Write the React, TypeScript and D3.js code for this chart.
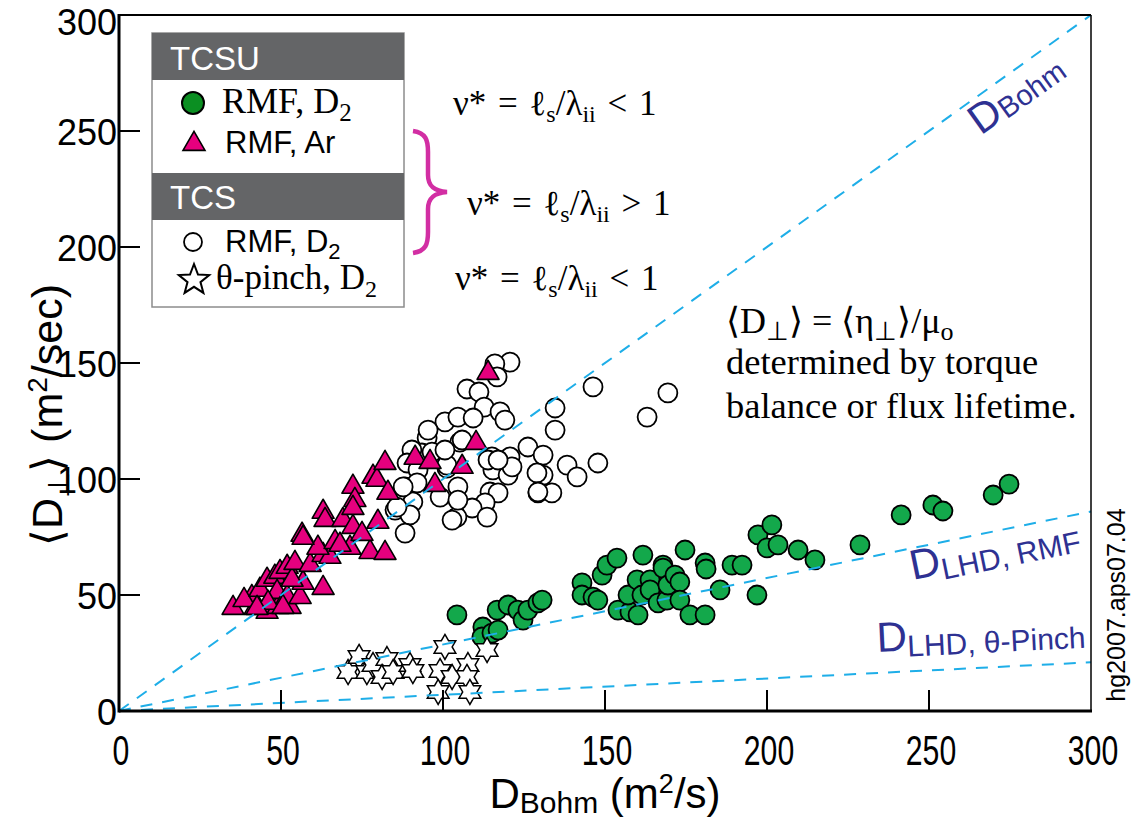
import React from "react";
import * as d3 from "d3";

// axis ticks
const xTicks = [0, 50, 100, 150, 200, 250, 300];
const yTicks = [0, 50, 100, 150, 200, 250, 300];

// TCSU, RMF, D2 (green circles)
const tcsuD2 = [
  [104.3, 41.4], [112.3, 36.2], [112.0, 31.9], [115.1, 33.6], [117.0, 34.9], [116.7, 43.5],
  [120.1, 45.7], [123.1, 43.5], [124.7, 39.2], [126.2, 43.5], [129.3, 46.6], [130.6, 47.8],
  [142.9, 55.2], [142.9, 50.0], [146.3, 49.1], [147.8, 47.8], [149.1, 58.6], [150.6, 62.9],
  [153.7, 65.9], [154.0, 43.5], [157.7, 42.7], [160.2, 41.4], [157.1, 50.0], [159.9, 56.5],
  [161.4, 50.0], [163.9, 56.5], [163.9, 52.2], [161.7, 67.2], [166.4, 46.6], [167.9, 62.9],
  [167.9, 61.6], [169.1, 47.8], [169.4, 54.3], [171.6, 58.6], [173.1, 55.6], [173.1, 47.8],
  [174.7, 69.4], [176.2, 41.4], [180.9, 41.4], [180.9, 63.8], [181.2, 61.2], [185.5, 52.2],
  [189.2, 62.9], [192.3, 62.9], [196.9, 50.0], [197.2, 75.9], [200.0, 70.3], [201.5, 80.2],
  [203.4, 71.6], [209.6, 69.4], [214.8, 65.1], [228.7, 71.6], [241.4, 84.5], [251.2, 88.8],
  [254.3, 86.2], [269.8, 93.1], [274.7, 97.8],
];

// TCSU, RMF, Ar (magenta triangles)
const tcsuAr = [
  [35.2, 44.4], [42.0, 44.4], [45.7, 42.7], [49.1, 44.8], [52.8, 44.8], [41.0, 49.1],
  [38.6, 47.8], [43.5, 52.2], [45.7, 56.5], [48.1, 57.8], [49.7, 59.9], [51.9, 62.1],
  [48.8, 51.3], [51.9, 49.1], [55.9, 49.1], [56.8, 55.2], [53.4, 56.5], [54.3, 63.8],
  [59.0, 62.9], [63.0, 53.0], [63.0, 67.2], [65.1, 66.4], [61.4, 70.3], [66.7, 72.8],
  [71.3, 70.3], [77.5, 68.5], [82.1, 68.1], [56.5, 75.9], [56.8, 74.6], [63.0, 85.8],
  [63.6, 82.3], [69.1, 82.3], [72.2, 79.3], [79.9, 81.5], [72.2, 96.6], [72.8, 90.9],
  [72.2, 87.5], [78.4, 100.9], [79.6, 99.6], [82.1, 106.9], [83.0, 94.0], [91.4, 109.1],
  [96.0, 107.3], [97.5, 97.4], [105.9, 105.2], [110.2, 115.5], [46.0, 46.6], [50.6, 44.8],
  [42.6, 44.4], [68.2, 71.6], [75.0, 76.3], [113.9, 145.7],
];

// TCS, RMF, D2 (open circles)
const tcsD2 = [
  [120.7, 150.4], [116.0, 149.6], [116.7, 144.0], [107.4, 138.8], [111.1, 137.5], [112.7, 131.0],
  [117.6, 128.9], [119.1, 125.4], [100.6, 124.6], [104.6, 126.7], [109.3, 126.3], [146.3, 139.7],
  [134.6, 130.6], [134.6, 121.1], [169.4, 137.1], [163.0, 126.7], [126.2, 113.8], [130.9, 110.3],
  [138.3, 106.0], [141.4, 100.9], [147.8, 106.9], [130.9, 101.7], [129.3, 94.0], [133.6, 94.0],
  [105.2, 115.9], [115.1, 109.5], [120.7, 109.5], [115.4, 103.9], [120.1, 101.7], [121.3, 105.2],
  [114.5, 94.4], [117.0, 94.0], [104.6, 96.6], [113.0, 89.7], [109.0, 87.5], [104.3, 83.6],
  [113.6, 83.6], [95.1, 117.7], [93.5, 111.2], [101.2, 104.7], [96.6, 111.6], [90.4, 112.5],
  [88.9, 106.9], [92.3, 103.9], [101.2, 106.0], [88.3, 96.6], [92.0, 98.3], [90.7, 90.1],
  [85.2, 86.6], [89.8, 84.5], [88.3, 76.7], [99.1, 92.2], [104.6, 90.9], [102.8, 82.3],
  [113.9, 108.2], [117.0, 108.2], [129.0, 102.6], [129.3, 94.4], [85.8, 87.9], [87.7, 96.6],
  [105.9, 116.8], [100.6, 112.5], [95.4, 121.1],
];

// TCS, theta-pinch, D2 (open stars)
const tcsPinch = [
  [70.7, 16.8], [74.1, 23.3], [76.5, 16.8], [78.4, 19.8], [82.7, 22.4], [81.2, 14.7],
  [84.6, 16.8], [89.8, 19.8], [90.7, 17.2], [100.6, 27.6], [99.1, 17.2], [102.8, 14.7],
  [107.7, 19.8], [107.4, 14.7], [98.5, 8.2], [108.3, 8.2], [113.6, 26.3],
];

// reference scaling lines (end points) and where their labels sit
const bohmLine = [[0, 0], [300, 300]];
const rmfLine = [[0, 0], [300, 86]];
const pinchLine = [[0, 0], [300, 21]];
const bohmLabelAt = [266, 248];
const rmfLabelAt = [245, 56.5];
const pinchLabelAt = [234, 25.4];

const SANS = "'Liberation Sans', Arial, sans-serif";
const SERIF = "'Liberation Serif', 'Times New Roman', serif";
const BLUE_LINE = "#1eaee8";
const LABEL_BLUE = "#2e3192";
const GREEN = "#13a84b";
const MAGENTA = "#e6007e";

function starPath(n, ro, ri) {
  const pts = [];
  for (let i = 0; i < 2 * n; i++) {
    const r = i % 2 === 0 ? ro : ri;
    const a = -Math.PI / 2 + (i * Math.PI) / n;
    pts.push([r * Math.cos(a), r * Math.sin(a)]);
  }
  return "M" + pts.map((p) => p[0].toFixed(2) + "," + p[1].toFixed(2)).join("L") + "Z";
}

function triPath(s) {
  const h = (s * Math.sqrt(3)) / 2;
  return `M0,${(-2 * h) / 3}L${s / 2},${h / 3}L${-s / 2},${h / 3}Z`;
}

export default function App() {
  const W = 1132;
  const H = 818;
  const x = d3.scaleLinear().domain([0, 300]).range([119, 1091]);
  const y = d3.scaleLinear().domain([0, 300]).range([711, 15]);
  const line = d3.line().x((d) => x(d[0])).y((d) => y(d[1]));

  const angle = (l) =>
    (Math.atan2(y(l[1][1]) - y(l[0][1]), x(l[1][0]) - x(l[0][0])) * 180) / Math.PI;

  const star6 = starPath(6, 12.5, 7.2);
  const star5 = starPath(5, 16, 6.8);
  const tri = triPath(22);

  const [x0, x1] = x.range();
  const [y0, y1] = y.range();

  return (
    <div style={{ position: "absolute", left: 0, top: 0 }}>
      <svg width={W} height={H} style={{ display: "block", background: "#fff" }}>
        {/* data markers */}
        <g>
          {tcsD2.map((d, i) => (
            <circle key={"o" + i} cx={x(d[0])} cy={y(d[1])} r={9.5} fill="#fff" stroke="#000" strokeWidth={1.8} />
          ))}
          {tcsuAr.map((d, i) => (
            <path key={"t" + i} d={tri} transform={`translate(${x(d[0])},${y(d[1])})`} fill={MAGENTA} stroke="#000" strokeWidth={1.6} strokeLinejoin="round" />
          ))}
          {tcsuD2.map((d, i) => (
            <circle key={"g" + i} cx={x(d[0])} cy={y(d[1])} r={9.5} fill={GREEN} stroke="#000" strokeWidth={1.8} />
          ))}
          {tcsPinch.map((d, i) => (
            <path key={"s" + i} d={star6} transform={`translate(${x(d[0])},${y(d[1])})`} fill="#fff" stroke="#000" strokeWidth={1.5} />
          ))}
        </g>

        {/* dashed scaling lines */}
        {[bohmLine, rmfLine, pinchLine].map((l, i) => (
          <path key={"l" + i} d={line(l)} fill="none" stroke={BLUE_LINE} strokeWidth={2} strokeDasharray="12,10" />
        ))}

        {/* line labels */}
        <text transform={`translate(${x(bohmLabelAt[0])},${y(bohmLabelAt[1])}) rotate(${angle(bohmLine)})`} fill={LABEL_BLUE} fontFamily={SANS}>
          <tspan fontSize={42}>D</tspan>
          <tspan fontSize={29} dy={2}>Bohm</tspan>
        </text>
        <text transform={`translate(${x(rmfLabelAt[0])},${y(rmfLabelAt[1])}) rotate(${angle(rmfLine)})`} fill={LABEL_BLUE} fontFamily={SANS}>
          <tspan fontSize={42}>D</tspan>
          <tspan fontSize={30} dy={6}>LHD, RMF</tspan>
        </text>
        <text transform={`translate(${x(pinchLabelAt[0])},${y(pinchLabelAt[1])}) rotate(${angle(pinchLine)})`} fill={LABEL_BLUE} fontFamily={SANS}>
          <tspan fontSize={42}>D</tspan>
          <tspan fontSize={30} dy={6}>LHD, θ-Pinch</tspan>
        </text>

        {/* frame */}
        <line x1={x0} x2={x1} y1={y1} y2={y1} stroke="#000" strokeWidth={2} />
        <line x1={x1} x2={x1} y1={y1} y2={y0} stroke="#000" strokeWidth={1.5} />
        <line x1={x0} x2={x1 + 1} y1={y0} y2={y0} stroke="#000" strokeWidth={3} />
        <line x1={x0} x2={x0} y1={y1 - 1} y2={y0 + 1.5} stroke="#000" strokeWidth={3} />

        {/* x ticks */}
        {xTicks.map((t) => (
          <g key={"xt" + t}>
            {t > 0 && t < 300 && <line x1={x(t)} x2={x(t)} y1={y0} y2={y0 - 21} stroke="#000" strokeWidth={2} />}
            <text transform={`translate(${x(t) + 2},765) scale(0.72,1)`} textAnchor="middle" fontFamily={SANS} fontSize={42}>
              {t}
            </text>
          </g>
        ))}
        {/* y ticks */}
        {yTicks.map((t) => (
          <g key={"yt" + t}>
            {t > 0 && <line x1={x0} x2={x0 + 21} y1={y(t)} y2={y(t)} stroke="#000" strokeWidth={2} />}
            <text x={117} y={Math.max(y(t) + 14, 35)} textAnchor="end" fontFamily={SANS} fontSize={36}>
              {t}
            </text>
          </g>
        ))}

        {/* axis titles */}
        <text x={(x0 + x1) / 2} y={808} textAnchor="middle" fontFamily={SANS}>
          <tspan fontSize={42}>D</tspan>
          <tspan fontSize={30} dy={5}>Bohm</tspan>
          <tspan fontSize={42} dy={-5}> (m</tspan>
          <tspan fontSize={27} dy={-15}>2</tspan>
          <tspan fontSize={42} dy={15}>/s)</tspan>
        </text>
        <text transform="translate(62,415) rotate(-90)" textAnchor="middle" fontFamily={SANS}>
          <tspan fontSize={43}>⟨D</tspan>
          <tspan fontSize={30} dy={7}>⊥</tspan>
          <tspan fontSize={43} dy={-7}>⟩ (m</tspan>
          <tspan fontSize={28} dy={-15}>2</tspan>
          <tspan fontSize={43} dy={15}>/sec)</tspan>
        </text>

        {/* legend */}
        <g>
          <rect x={152} y={33} width={252} height={274} fill="#fff" stroke="#8c8c8c" strokeWidth={1.5} />
          <rect x={152} y={33} width={252} height={47} fill="#646567" />
          <rect x={152} y={173} width={252} height={47} fill="#646567" />
          <text x={170} y={70} fill="#fff" fontFamily={SANS} fontSize={33}>TCSU</text>
          <text x={170} y={209} fill="#fff" fontFamily={SANS} fontSize={33}>TCS</text>

          <circle cx={193} cy={103} r={11} fill="#0b8f22" stroke="#000" strokeWidth={2} />
          <text x={222} y={113} fontFamily={SERIF} fontSize={36}>
            RMF, D<tspan fontSize={25} dy={8}>2</tspan>
          </text>

          <path d={tri} transform="translate(194,144)" fill={MAGENTA} stroke="#000" strokeWidth={1.6} />
          <text x={225} y={153} fontFamily={SANS} fontSize={31}>RMF, Ar</text>

          <circle cx={193} cy={242} r={9} fill="#fff" stroke="#000" strokeWidth={1.8} />
          <text x={225} y={252} fontFamily={SANS} fontSize={31}>
            RMF, D<tspan fontSize={22} dy={7}>2</tspan>
          </text>

          <path d={star5} transform="translate(194,280)" fill="#fff" stroke="#000" strokeWidth={2} />
          <text x={216} y={289} fontFamily={SERIF} fontSize={35}>
            θ-pinch, D<tspan fontSize={24} dy={8}>2</tspan>
          </text>
        </g>

        {/* brace */}
        <path
          d="M413,131 C426,133 428,140 428,152 L428,175 C428,186 434,191 447,192 C434,193 428,198 428,209 L428,232 C428,244 426,251 413,253"
          fill="none"
          stroke="#d22ea3"
          strokeWidth={4.5}
        />

        {/* collisionality annotations */}
        {[
          { x: 453, y: 115, op: "<" },
          { x: 467, y: 215, op: ">" },
          { x: 455, y: 290, op: "<" },
        ].map((e, i) => (
          <text key={"eq" + i} x={e.x} y={e.y} fontFamily={SERIF} fontSize={35} wordSpacing={3}>
            ν* = ℓ<tspan fontSize={24} dy={7}>s</tspan>
            <tspan dy={-7}>/λ</tspan>
            <tspan fontSize={24} dy={7}>ii</tspan>
            <tspan dy={-7}> {e.op} 1</tspan>
          </text>
        ))}

        {/* right annotation */}
        <text x={726} y={333} fontFamily={SERIF} fontSize={36}>
          ⟨D<tspan fontSize={26} dy={7}>⊥</tspan>
          <tspan dy={-7}>⟩ = ⟨η</tspan>
          <tspan fontSize={26} dy={7}>⊥</tspan>
          <tspan dy={-7}>⟩/μ</tspan>
          <tspan fontSize={26} dy={7}>o</tspan>
        </text>
        <text x={726} y={374} fontFamily={SERIF} fontSize={36.5}>determined by torque</text>
        <text x={726} y={418} fontFamily={SERIF} fontSize={36.5}>balance or flux lifetime.</text>

        {/* figure id */}
        <text transform="translate(1125,605) rotate(-90)" textAnchor="middle" fontFamily={SANS} fontSize={25}>
          hg2007.aps07.04
        </text>
      </svg>
    </div>
  );
}
